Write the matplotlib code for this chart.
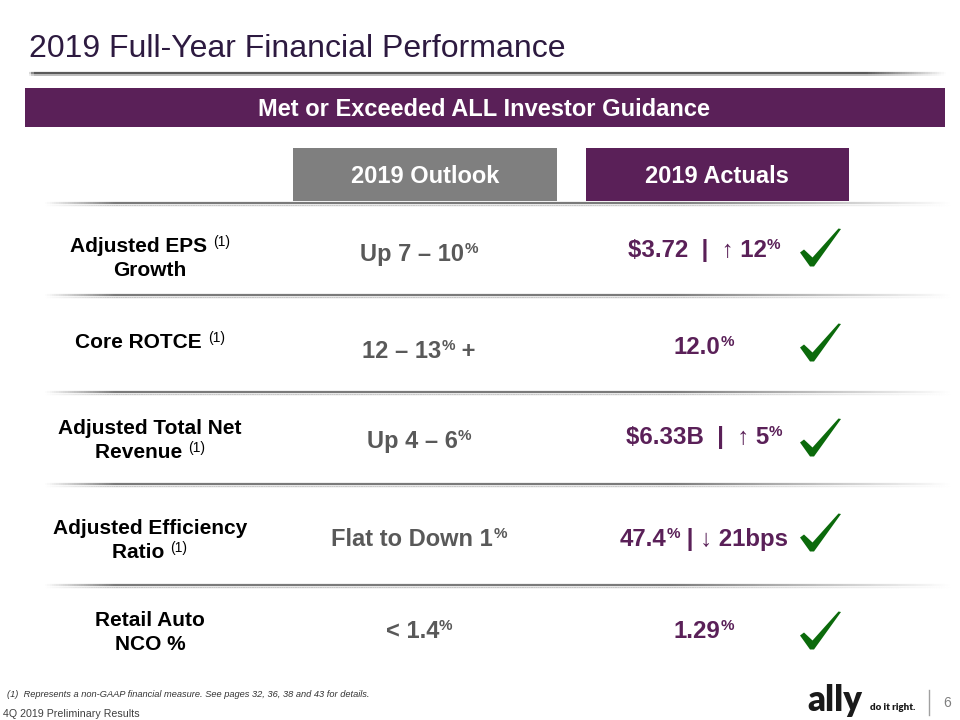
import re
import numpy as np
import matplotlib
matplotlib.use("Agg")
import matplotlib.pyplot as plt
from matplotlib.collections import LineCollection
from matplotlib.patches import Rectangle
from matplotlib.path import Path

# ---------------- data ----------------
title = "2019 Full-Year Financial Performance"
banner = "Met or Exceeded ALL Investor Guidance"
col_headers = ["2019 Outlook", "2019 Actuals"]
metrics = [
    "Adjusted EPS ^{(1)}\nGrowth",
    "Core ROTCE ^{(1)}",
    "Adjusted Total Net\nRevenue ^{(1)}",
    "Adjusted Efficiency\nRatio ^{(1)}",
    "Retail Auto\nNCO %",
]
outlook = ["Up 7 – 10^{%}", "12 – 13^{%} +", "Up 4 – 6^{%}", "Flat to Down 1^{%}", "< 1.4^{%}"]
actuals = ["$3.72  |  ↑ 12^{%}", "12.0^{%}", "$6.33B  |  ↑ 5^{%}", "47.4^{%} | ↓ 21bps", "1.29^{%}"]
met_guidance = [True, True, True, True, True]
footnote = "(1)  Represents a non-GAAP financial measure. See pages 32, 36, 38 and 43 for details."
footer_left = "4Q 2019 Preliminary Results"
page_no = "6"

# ---------------- style ----------------
PURPLE = "#5a2058"
TITLE_C = "#2d1a40"
GRAY_BOX = "#7f7f7f"
GRAY_TXT = "#595959"
GREEN = "#0b6a0b"
FONT = ["Liberation Sans", "DejaVu Sans"]

fig = plt.figure(figsize=(9.6, 7.2), dpi=100)
ax = fig.add_axes([0, 0, 1, 1])
ax.set_xlim(0, 960)
ax.set_ylim(720, 0)
ax.axis("off")
renderer = fig.canvas.get_renderer()


def parse(s):
    parts = []
    pos = 0
    for m in re.finditer(r"\^\{([^}]*)\}", s):
        if m.start() > pos:
            parts.append((s[pos:m.start()], False))
        parts.append((m.group(1), True))
        pos = m.end()
    if pos < len(s):
        parts.append((s[pos:], False))
    return parts


def rich(x, y, s, size, color, weight="bold", sup_size=None, sup_weight=None, raise_px=None):
    sup_size = sup_size or size * 0.62
    sup_weight = sup_weight or weight
    raise_px = raise_px if raise_px is not None else size * 0.55
    texts = []
    for txt, sup in parse(s):
        t = ax.text(0, y - (raise_px if sup else 0), txt,
                    fontsize=sup_size if sup else size,
                    fontweight=sup_weight if sup else weight,
                    color=color, family=FONT, ha="left", va="baseline",
                    parse_math=False)
        texts.append(t)
    widths = [t.get_window_extent(renderer).width for t in texts]
    start = x - sum(widths) / 2
    for t, w in zip(texts, widths):
        t.set_x(start)
        start += w


def grad_line(y, x0, x1, color, lw, fade_l=60, fade_r=260, alpha_max=1.0):
    xs = np.linspace(x0, x1, 400)
    segs = [[(xs[i], y), (xs[i + 1], y)] for i in range(len(xs) - 1)]
    xm = (xs[:-1] + xs[1:]) / 2
    a = np.minimum(1, (xm - x0) / fade_l) * np.minimum(1, (x1 - xm) / fade_r)
    a = np.clip(a, 0, 1) * alpha_max
    rgba = np.array([matplotlib.colors.to_rgba(color)] * len(segs))
    rgba[:, 3] = a
    ax.add_collection(LineCollection(segs, colors=rgba, linewidths=lw, capstyle="butt"))


# calligraphic check-mark marker shape (tapered right stroke)
_ck = np.array([(0, 14), (4, 17), (12.5, 9), (38.5, 38), (41, 37.5), (14, 0), (10, 0), (0, 14)], float)
_ck -= [20.5, 19]
CHECK = Path(_ck, [Path.MOVETO] + [Path.LINETO] * 6 + [Path.CLOSEPOLY])

# title
ax.text(29, 57, title, fontsize=23, color=TITLE_C, family=FONT, ha="left", va="baseline")
grad_line(72.5, 29, 946, "#5a5a5a", 1.6, fade_l=5, fade_r=80)
grad_line(74.5, 29, 946, "#b0b0b0", 1.2, fade_l=5, fade_r=80)

# banner
ax.add_patch(Rectangle((25, 88), 920, 39, facecolor=PURPLE, edgecolor="none"))
ax.text(484, 116, banner, fontsize=17, fontweight="bold", color="white",
        family=FONT, ha="center", va="baseline")

# column headers
ax.add_patch(Rectangle((293, 148), 264, 53, facecolor=GRAY_BOX, edgecolor="none"))
ax.add_patch(Rectangle((586, 148), 263, 53, facecolor=PURPLE, edgecolor="none"))
ax.text(425, 183, col_headers[0], fontsize=17, fontweight="bold", color="white",
        family=FONT, ha="center", va="baseline")
ax.text(717, 183, col_headers[1], fontsize=17, fontweight="bold", color="white",
        family=FONT, ha="center", va="baseline")

# separators
for ys in [203, 295, 392, 484, 585]:
    grad_line(ys, 45, 950, "#7a7a7a", 1.6, fade_l=70, fade_r=280)
    grad_line(ys + 1.8, 45, 950, "#c8c8c8", 1.0, fade_l=70, fade_r=280)

# rows
label_base = [[252, 276], [348], [434, 458], [534, 558], [626, 650]]
outlook_base = [261, 358, 448, 546, 638]
actual_base = [257, 354, 444, 546, 638]
check_y = [247, 342, 437, 532, 630]

for i in range(len(metrics)):
    for line, yb in zip(metrics[i].split("\n"), label_base[i]):
        rich(150, yb, line, 15, "black", weight="bold", sup_size=10,
             sup_weight="normal", raise_px=6)
    rich(419, outlook_base[i], outlook[i], 17, GRAY_TXT, raise_px=8, sup_size=11)
    rich(704, actual_base[i], actuals[i], 17.3, PURPLE, raise_px=8, sup_size=11)
    if met_guidance[i]:
        ax.plot([820], [check_y[i]], marker=CHECK, markersize=29.5, color=GREEN,
                markeredgewidth=0, linestyle="none")

# footer
ax.text(7, 697, footnote, fontsize=6.7, style="italic", color="#333333",
        family=FONT, ha="left", va="baseline")
ax.text(3, 717, footer_left, fontsize=7.7, color="#404040", family=FONT,
        ha="left", va="baseline")
ax.text(807, 711, "ally", fontsize=25, fontweight="heavy", color="#1a1a1a",
        family=["Lato", "DejaVu Sans"], ha="left", va="baseline")
ax.text(870, 710, "do it right.", fontsize=7, fontweight="heavy", color="#1a1a1a",
        family=["Lato", "DejaVu Sans"], ha="left", va="baseline")
ax.plot([929, 929], [690, 715], color="#a0a0a0", lw=1)
ax.text(947, 703, page_no, fontsize=10, color="#7f7f7f", family=FONT,
        ha="center", va="center")

fig.savefig("out.png", dpi=100)
